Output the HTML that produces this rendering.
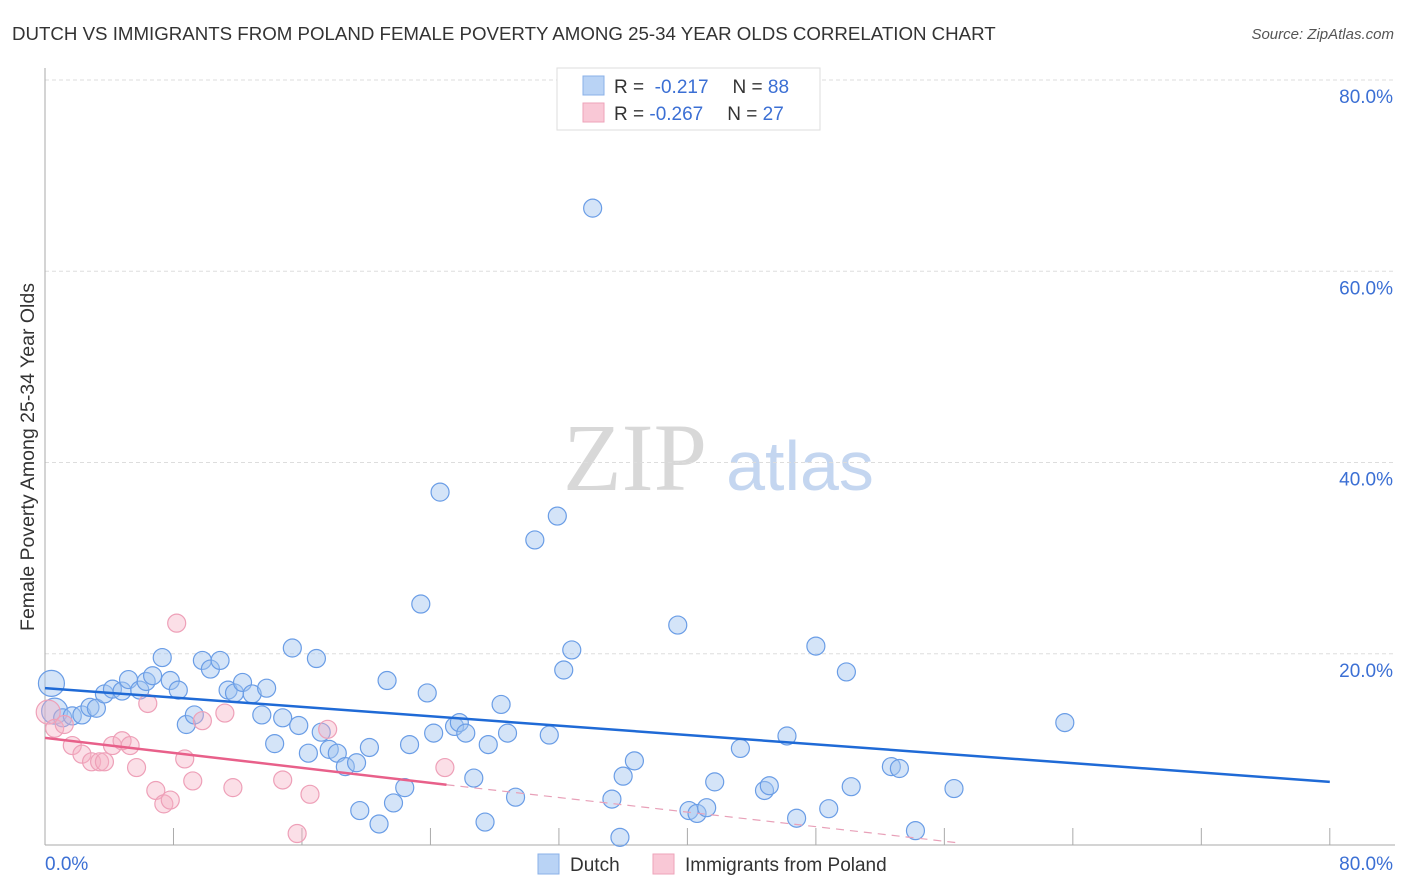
<!DOCTYPE html>
<html><head><meta charset="utf-8"><style>
body{margin:0;background:#fff;font-family:"Liberation Sans",sans-serif;}
svg{display:block}
</style></head><body>
<svg id="chart" width="1406" height="892">
<text x="12" y="40" font-size="18.7" fill="#333">DUTCH VS IMMIGRANTS FROM POLAND FEMALE POVERTY AMONG 25-34 YEAR OLDS CORRELATION CHART</text>
<text x="1394" y="39" font-size="15" fill="#555" font-style="italic" text-anchor="end">Source: ZipAtlas.com</text>
<text x="0" y="0" transform="translate(34,457) rotate(-90)" font-size="19.5" fill="#333" text-anchor="middle">Female Poverty Among 25-34 Year Olds</text>
<g>
<text x="635" y="490" font-size="96" fill="#d8d8d8" font-family="Liberation Serif,serif" text-anchor="middle">ZIP</text>
<text x="800" y="490" font-size="70" fill="#c4d6f0" text-anchor="middle">atlas</text>
</g>
<g id="grid"></g><g id="axes"></g><g id="pts"></g><g id="lines"></g>
<g>
<rect x="557" y="68" width="263" height="62" fill="#fff" stroke="#ddd"/>
<rect x="583" y="76" width="21" height="19" fill="#b9d3f5" stroke="#8ab0e8"/>
<rect x="583" y="103" width="21" height="19" fill="#f9c8d6" stroke="#eea3ba"/>
<text x="614" y="93" font-size="19" fill="#333">R = <tspan fill="#3b6fd4">&#160;-0.217</tspan><tspan dx="24">N = </tspan><tspan fill="#3b6fd4">88</tspan></text>
<text x="614" y="120" font-size="19" fill="#333">R = <tspan fill="#3b6fd4">-0.267</tspan><tspan dx="24">N = </tspan><tspan fill="#3b6fd4">27</tspan></text>
</g>
<g>
<rect x="538" y="854" width="21" height="20" fill="#b9d3f5" stroke="#8ab0e8"/>
<text x="570" y="871" font-size="19" fill="#333">Dutch</text>
<rect x="653" y="854" width="21" height="20" fill="#f9c8d6" stroke="#eea3ba"/>
<text x="685" y="871" font-size="19" fill="#333">Immigrants from Poland</text>
</g>
</svg>
<script>
const xTicks=[0,80];
const yTicks=[20,40,60,80];
const dutchX=[0.4,0.6,1.1,1.7,2.3,2.8,3.2,3.7,4.2,4.8,5.2,5.9,6.3,6.7,7.3,7.8,8.3,8.8,9.3,9.8,10.3,10.9,11.4,11.8,12.3,12.9,13.5,13.8,14.3,14.8,15.4,15.8,16.4,16.9,17.2,17.7,18.2,18.7,19.4,19.6,20.2,20.8,21.3,21.7,22.4,22.7,23.4,23.8,24.2,24.6,25.5,25.8,26.2,26.7,27.4,27.6,28.4,28.8,29.3,30.5,31.4,31.9,32.3,32.8,35.3,35.8,36.0,36.7,39.4,40.1,40.6,41.2,41.7,43.3,44.8,45.1,46.2,46.8,48.0,48.8,49.9,50.2,52.7,53.2,54.2,56.6,63.5,34.1];
const dutchY=[16.9,14.0,13.3,13.5,13.6,14.4,14.3,15.8,16.3,16.1,17.3,16.2,17.1,17.7,19.6,17.2,16.2,12.6,13.6,19.3,18.4,19.3,16.2,15.9,17.0,15.8,13.6,16.4,10.6,13.3,20.6,12.5,9.6,19.5,11.8,10.0,9.6,8.2,8.6,3.6,10.2,2.2,17.2,4.4,6.0,10.5,25.2,15.9,11.7,36.9,12.4,12.8,11.7,7.0,2.4,10.5,14.7,11.7,5.0,31.9,11.5,34.4,18.3,20.4,4.8,0.8,7.2,8.8,23.0,3.6,3.3,3.9,6.6,10.1,5.7,6.2,11.4,2.8,20.8,3.8,18.1,6.1,8.2,8.0,1.5,5.9,12.8,66.6];
const dutchR=[13,13,9,9,9,9,9,9,9,9,9,9,9,9,9,9,9,9,9,9,9,9,9,9,9,9,9,9,9,9,9,9,9,9,9,9,9,9,9,9,9,9,9,9,9,9,9,9,9,9,9,9,9,9,9,9,9,9,9,9,9,9,9,9,9,9,9,9,9,9,9,9,9,9,9,9,9,9,9,9,9,9,9,9,9,9,9,9];
const polX=[0.2,0.6,1.2,1.7,2.3,2.9,3.4,3.7,4.2,4.8,5.3,5.7,6.4,6.9,7.4,7.8,8.2,8.7,9.2,9.8,11.2,11.7,14.8,15.7,16.5,17.6,24.9];
const polY=[13.9,12.2,12.6,10.4,9.5,8.7,8.7,8.7,10.4,10.9,10.4,8.1,14.8,5.7,4.3,4.7,23.2,9.0,6.7,13.0,13.8,6.0,6.8,1.2,5.3,12.1,8.1];
const dutchLine=[[0,16.4],[80,6.6]];
const polLine=[[0,11.2],[25,6.3]];
const polDash=[[25,6.3],[57,0.2]];
const X=v=>45+v*16.06, Y=v=>845-v*9.5625;
const NS="http://www.w3.org/2000/svg";
function mk(t,a,p){const e=document.createElementNS(NS,t);for(const k in a)e.setAttribute(k,a[k]);p.appendChild(e);return e;}
const grid=document.getElementById('grid'),axes=document.getElementById('axes'),pts=document.getElementById('pts'),lines=document.getElementById('lines');
yTicks.forEach(v=>{
 const l=mk('line',{x1:45,x2:1395,y1:Y(v),y2:Y(v),stroke:'#ddd','stroke-dasharray':'4,3'},grid);
 
 
 const t=mk('text',{x:1393,y:Y(v)+23,'font-size':19,fill:'#3b6fd4','text-anchor':'end'},axes);
 t.textContent=v.toFixed(1)+'%';
 
 
});
let a=mk('line',{x1:45,x2:45,y1:68,y2:845,stroke:'#aaa'},axes);


a=mk('line',{x1:45,x2:1395,y1:845,y2:845,stroke:'#aaa'},axes);


for(let i=1;i<=10;i++){const t=mk('line',{x1:X(i*8),x2:X(i*8),y1:828,y2:845,stroke:'#aaa'},axes);
 
 }
xTicks.forEach((v,i)=>{const t=mk('text',{x:i?1393:45,y:870,'font-size':19,fill:'#3b6fd4','text-anchor':i?'end':'start'},axes);
 t.textContent=v.toFixed(1)+'%';
 
 });
dutchX.forEach((v,i)=>{const c=mk('circle',{cx:X(v),cy:Y(dutchY[i]),r:dutchR[i],fill:'rgba(160,196,240,0.45)',stroke:'#6a9de6','stroke-width':1.2},pts);
 
 });
polX.forEach((v,i)=>{const c=mk('circle',{cx:X(v),cy:Y(polY[i]),r:i==0?12:9,fill:'rgba(245,175,195,0.4)',stroke:'#eea0b8','stroke-width':1.2},pts);
 
 });
let l=mk('line',{x1:X(dutchLine[0][0]),y1:Y(dutchLine[0][1]),x2:X(dutchLine[1][0]),y2:Y(dutchLine[1][1]),stroke:'#1f6ad6','stroke-width':2.5},lines);


l=mk('line',{x1:X(polLine[0][0]),y1:Y(polLine[0][1]),x2:X(polLine[1][0]),y2:Y(polLine[1][1]),stroke:'#e8608a','stroke-width':2.5},lines);


l=mk('line',{x1:X(polDash[0][0]),y1:Y(polDash[0][1]),x2:X(polDash[1][0]),y2:Y(polDash[1][1]),stroke:'#e8a0b8','stroke-width':1.2,'stroke-dasharray':'8,6'},lines);


</script>
</body></html>
